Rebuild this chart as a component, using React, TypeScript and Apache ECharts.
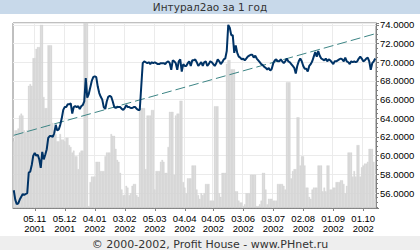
import React, { useEffect, useRef } from 'react';
import * as echarts from 'echarts';

const titleText = 'Интурал2ао за 1 год';
const footerText = '© 2000-2002, Profit House - www.PHnet.ru';

const tickIdx = [14, 34, 54, 74, 94, 114, 133, 153, 173, 193, 213, 233];
const tickLabels = [
  '05.11\n2001', '05.12\n2001', '04.01\n2002', '03.02\n2002', '05.03\n2002', '04.04\n2002',
  '04.05\n2002', '03.06\n2002', '03.07\n2002', '02.08\n2002', '01.09\n2002', '01.10\n2002',
];

const price = [
  56.3, 55.3, 54.8, 54.9, 55.3, 55.6, 55.9, 55.8, 55.9, 56.0,
  58.2, 58.3, 59.0, 60.0, 60.3, 60.0, 60.1, 59.6, 58.7, 60.4,
  59.6, 60.1, 60.7, 61.9, 62.1, 62.1, 62.0, 62.4, 63.3, 62.7,
  62.8, 63.3, 64.0, 64.9, 65.2, 65.2, 65.5, 65.5, 65.6, 64.5,
  65.2, 65.3, 65.2, 65.3, 65.0, 65.3, 65.4, 65.8, 68.3, 66.2,
  66.6, 67.3, 68.0, 68.4, 68.5, 68.4, 67.4, 66.7, 66.3, 66.0,
  65.2, 65.0, 65.8, 66.3, 66.4, 66.3, 65.8, 65.2, 65.1, 65.2,
  65.2, 65.2, 65.0, 64.9, 65.1, 65.4, 65.2, 65.2, 65.1, 65.1,
  65.2, 65.2, 65.0, 64.9, 64.9, 67.4, 69.9, 70.1, 70.0, 69.9,
  70.0, 69.8, 70.0, 69.9, 70.0, 69.9, 69.8, 69.8, 69.9, 69.9,
  69.9, 69.8, 70.0, 70.1, 69.9, 69.2, 70.2, 70.1, 69.9, 69.2,
  70.1, 70.3, 69.0, 69.8, 69.6, 69.6, 69.9, 70.1, 69.6, 70.2,
  70.2, 70.3, 70.0, 69.6, 69.8, 70.0, 69.6, 70.0, 70.1, 69.6,
  69.8, 70.1, 70.0, 69.8, 69.6, 69.9, 70.3, 70.1, 69.8, 70.0,
  70.3, 70.4, 71.2, 74.0, 73.7, 72.9, 72.9, 71.0, 71.8, 71.0,
  70.6, 70.5, 70.3, 70.4, 70.2, 70.4, 70.6, 70.7, 70.8, 70.8,
  70.5, 70.7, 70.4, 70.2, 70.0, 69.8, 69.7, 69.5, 69.4, 69.2,
  69.4, 69.1, 69.3, 69.9, 70.2, 70.3, 70.1, 70.1, 70.3, 70.1,
  69.9, 70.1, 70.4, 70.1, 70.0, 69.8, 69.6, 69.4, 68.8, 69.6,
  70.1, 70.4, 70.1, 69.6, 69.3, 69.3, 69.0, 69.6, 69.8, 70.1,
  70.6, 71.1, 70.6, 71.2, 70.7, 70.4, 70.3, 70.2, 70.4, 70.1,
  70.3, 70.2, 70.0, 69.8, 70.1, 70.1, 70.2, 70.3, 70.4, 70.3,
  70.1, 70.5, 70.1, 70.0, 69.8, 70.1, 70.0, 70.1, 70.0, 70.1,
  70.4, 70.6, 70.4, 70.1, 70.2, 70.4, 70.5, 70.1, 69.2, 69.9,
  70.1, 70.4,
];

const volume = [
  36, 42, 42, 43, 50, 51, 50, 42, 41, 42,
  66, 67, 66, 81, 81, 86, 87, 87, 99, 99,
  60, 54, 54, 88, 88, 88, 46, 42, 40, 36,
  36, 40, 37, 37, 36, 38, 38, 34, 33, 30,
  31, 28, 28, 21, 30, 31, 31, 110, 110, 110,
  1, 14, 17, 17, 17, 25, 25, 25, 20, 20,
  20, 28, 30, 30, 30, 40, 39, 39, 32, 26,
  25, 19, 10, 7, 7, 12, 11, 7, 8, 12,
  13, 13, 7, 6, 54, 54, 54, 54, 21, 50,
  50, 50, 53, 53, 10, 20, 20, 20, 25, 26,
  25, 19, 19, 33, 52, 52, 52, 18, 50, 51,
  51, 58, 58, 14, 11, 8, 16, 16, 16, 23,
  23, 23, 10, 7, 5, 8, 7, 8, 13, 13,
  13, 4, 4, 4, 55, 55, 55, 8, 6, 19,
  19, 19, 78, 80, 80, 75, 75, 75, 9, 9,
  4, 3, 3, 1, 2, 8, 8, 8, 18, 18,
  18, 18, 1, 1, 2, 4, 19, 19, 10, 2,
  5, 5, 5, 4, 4, 4, 13, 13, 13, 13,
  12, 10, 68, 68, 68, 16, 20, 21, 21, 49,
  49, 23, 28, 28, 23, 11, 11, 6, 5, 10,
  11, 11, 11, 23, 23, 23, 9, 11, 9, 23,
  23, 10, 10, 11, 11, 14, 14, 14, 15, 15,
  13, 8, 12, 30, 30, 30, 17, 20, 17, 34,
  34, 17, 22, 23, 24, 24, 25, 32, 32, 32,
  25, 5,
];

const trendStart = 62.18;
const trendEnd = 73.05;
const priceMin = 54.4;
const priceMax = 74.2;
const volumeMax = 100;

export default function App() {
  const ref = useRef<HTMLDivElement>(null);
  useEffect(() => {
    if (!ref.current) return;
    const chart = echarts.init(ref.current, undefined, { renderer: 'svg' });
    const days = price.map((_, i) => String(i));
    const trend = [[0, trendStart], [price.length - 1, trendEnd]];
    const isTick = (i: number) => tickIdx.indexOf(i) >= 0;
    chart.setOption({
      animation: false,
      backgroundColor: '#ffffff',
      graphic: [
        { type: 'rect', left: 0, top: 0, shape: { width: 420, height: 14 }, style: { fill: '#c8d9ea' }, silent: true },
        { type: 'rect', left: 0, top: 236, shape: { width: 420, height: 14 }, style: { fill: '#eeeeee' }, silent: true },
        {
          type: 'text', x: 210, y: 7,
          style: { text: titleText, fill: '#333333', font: '10.5px "DejaVu Sans"', textAlign: 'center', textVerticalAlign: 'middle' },
        },
        {
          type: 'text', x: 210, y: 244,
          style: { text: footerText, fill: '#333333', font: '11px "DejaVu Sans"', textAlign: 'center', textVerticalAlign: 'middle' },
        },
      ],
      grid: { left: 13, right: 44, top: 23, bottom: 42, show: true, borderColor: '#808080', borderWidth: 1 },
      xAxis: {
        type: 'category',
        data: days,
        boundaryGap: true,
        axisLine: { lineStyle: { color: '#808080' } },
        axisTick: { show: true, alignWithLabel: true, length: 3, interval: (i: number) => isTick(i), lineStyle: { color: '#808080' } },
        axisLabel: {
          interval: (i: number) => isTick(i),
          formatter: (_v: string, i: number) => tickLabels[tickIdx.indexOf(i)],
          color: '#000000',
          fontFamily: '"Liberation Sans Narrow", "Liberation Sans", sans-serif',
          fontSize: 9.5,
          lineHeight: 10.5,
          margin: 5,
        },
        splitLine: { show: true, interval: (i: number) => isTick(i), lineStyle: { color: '#ebebeb' } },
      },
      yAxis: [
        {
          type: 'value',
          position: 'right',
          min: priceMin,
          max: priceMax,
          splitNumber: 10,
          axisLine: { show: true, lineStyle: { color: '#808080' } },
          axisTick: { show: true, length: 3, lineStyle: { color: '#808080' } },
          minorTick: { show: true, splitNumber: 4, length: 2, lineStyle: { color: '#808080' } },
          axisLabel: {
            showMinLabel: false,
            showMaxLabel: false,
            formatter: (v: number) => v.toFixed(4),
            color: '#000000',
            fontFamily: '"Liberation Sans", sans-serif',
            fontSize: 9.5,
            margin: 4,
          },
          splitLine: { show: true, lineStyle: { color: '#ebebeb' } },
        },
        { type: 'value', min: 0, max: volumeMax, show: false },
      ],
      series: [
        {
          type: 'bar', yAxisIndex: 1, data: volume, barCategoryGap: '0%', barGap: '0%',
          itemStyle: { color: '#d3d3d3', borderColor: '#d3d3d3', borderWidth: 0.4 }, silent: true,
        },
        {
          type: 'line', yAxisIndex: 0, data: trend, symbol: 'none', silent: true,
          lineStyle: { color: '#3d8585', width: 1, type: [10, 4] },
        },
        {
          type: 'line', yAxisIndex: 0, data: price, symbol: 'none', silent: true,
          lineStyle: { color: '#003366', width: 2 },
        },
      ],
    });
    return () => chart.dispose();
  }, []);
  return <div ref={ref} style={{ position: 'fixed', left: 0, top: 0, width: 420, height: 250 }} />;
}
